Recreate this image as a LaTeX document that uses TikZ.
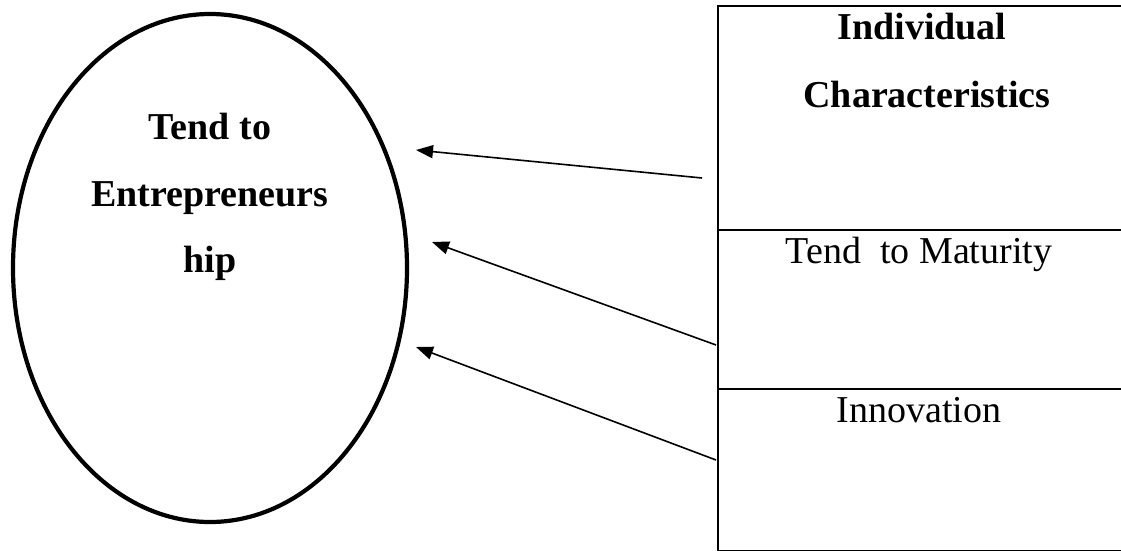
\documentclass[tikz,border=0pt]{standalone}
\usepackage{fontspec}
\setmainfont{Liberation Serif}
\usetikzlibrary{shapes.geometric,arrows.meta}
\begin{document}
\begin{tikzpicture}[x=1pt,y=-1pt,
  lbl/.style={font=\fontsize{38}{67}\selectfont, anchor=base, inner sep=0pt},
  blbl/.style={lbl, font=\fontsize{38}{67}\selectfont\bfseries},
  cell/.style={draw, line width=2.2pt, anchor=north west, inner sep=0pt},
  conn/.style={line width=1.6pt, -{Triangle[length=17pt,width=13pt]}}]
\useasboundingbox (0,0) rectangle (1121,551);
\clip (0,0) rectangle (1121,551);
\fill[white] (0,0) rectangle (1121,551);
% ellipse
\node[ellipse, draw, line width=4.2pt, minimum width=394pt, minimum height=508pt, inner sep=0pt] (ent) at (210,268) {};
\node[blbl] (t1) at (210,139) {Tend to};
\node[blbl] (t2) at (210,206) {Entrepreneurs};
\node[blbl] (t3) at (210,272) {hip};
% boxes (right side runs past the picture's edge)
\node[cell, minimum width=520pt, minimum height=224pt] (ind) at (717,5) {};
\node[cell, minimum width=520pt, minimum height=159pt] (mat) at (717,229) {};
\node[cell, minimum width=520pt, minimum height=162pt] (inn) at (717,388) {};
\node[blbl] (i1) at (922,40) {Individual};
\node[blbl] (i2) at (927,107) {Characteristics};
\node[lbl] (m1) at (919,263) {Tend\ \ to Maturity};
\node[lbl] (n1) at (919,422) {Innovation};
% arrows
\coordinate (s1) at (702,178);
\coordinate (e1) at (416,150);
\coordinate (s2) at (716,345);
\coordinate (e2) at (432,242);
\coordinate (s3) at (716,460);
\coordinate (e3) at (416,347);
\draw[conn] (s1) -- (e1);
\draw[conn] (s2) -- (e2);
\draw[conn] (s3) -- (e3);
\end{tikzpicture}
\end{document}
